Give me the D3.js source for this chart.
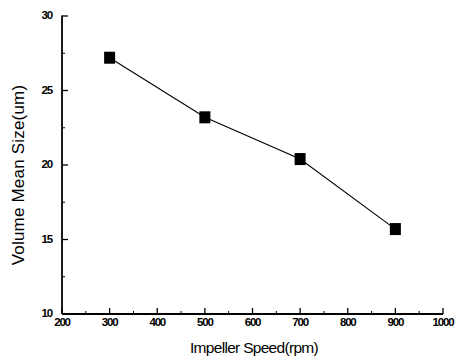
<!DOCTYPE html>
<html><head><meta charset="utf-8">
<script src="https://cdn.jsdelivr.net/npm/d3@7"></script>
<style>body{margin:0;background:#fff}</style>
</head><body>
<svg id="c" width="457" height="360"></svg>
<script>
const speeds = [300, 500, 700, 900];
const sizes = [27.2, 23.2, 20.4, 15.7];
const xTicks = [200, 300, 400, 500, 600, 700, 800, 900, 1000];
const yTicks = [10, 15, 20, 25, 30];
const xTitle = "Impeller Speed(rpm)";
const yTitle = "Volume Mean Size(um)";

const svg = d3.select("#c");
const x = d3.scaleLinear().domain([200, 1000]).range([62, 443]);
const y = d3.scaleLinear().domain([10, 30]).range([314, 16]);

const g = svg.append("g");
g.append("line").attr("x1", x(200)).attr("x2", x(1000)).attr("y1", y(10)).attr("y2", y(10)).attr("stroke", "#000").attr("stroke-width", 1.8);
g.append("line").attr("x1", x(200)).attr("x2", x(200)).attr("y1", y(10)).attr("y2", y(30) - 0.5).attr("stroke", "#000").attr("stroke-width", 1.8);

const xMinor = d3.range(250, 1000, 100);
const yMinor = d3.range(12.5, 30, 5);
g.selectAll(".xt").data(xTicks).join("line").attr("x1", d => x(d)).attr("x2", d => x(d)).attr("y1", y(10)).attr("y2", y(10) - 6).attr("stroke", "#000").attr("stroke-width", 1.3);
g.selectAll(".xm").data(xMinor).join("line").attr("x1", d => x(d)).attr("x2", d => x(d)).attr("y1", y(10)).attr("y2", y(10) - 3).attr("stroke", "#000").attr("stroke-width", 1);
g.selectAll(".yt").data(yTicks).join("line").attr("x1", x(200)).attr("x2", x(200) + 6).attr("y1", d => y(d)).attr("y2", d => y(d)).attr("stroke", "#000").attr("stroke-width", 1.3);
g.selectAll(".ym").data(yMinor).join("line").attr("x1", x(200)).attr("x2", x(200) + 3).attr("y1", d => y(d)).attr("y2", d => y(d)).attr("stroke", "#000").attr("stroke-width", 1);

g.selectAll(".xl").data(xTicks).join("text").attr("x", d => x(d)).attr("y", y(10) + 12)
  .attr("text-anchor", "middle").attr("font-family", "Liberation Sans, Arial, sans-serif").attr("font-weight", "bold")
  .attr("font-size", 11.5).attr("letter-spacing", -1.2).text(d => d);
g.selectAll(".yl").data(yTicks).join("text").attr("x", x(200) - 10).attr("y", d => y(d) + 3)
  .attr("text-anchor", "end").attr("font-family", "Liberation Sans, Arial, sans-serif").attr("font-weight", "bold")
  .attr("font-size", 11.5).attr("letter-spacing", -1.2).text(d => d);

g.append("text").attr("x", 254).attr("y", 353).attr("text-anchor", "middle")
  .attr("font-family", "Liberation Sans, Arial, sans-serif").attr("font-size", 15.5).attr("letter-spacing", -0.7).text(xTitle);
g.append("text").attr("transform", "translate(24,175) rotate(-90)").attr("text-anchor", "middle")
  .attr("font-family", "Liberation Sans, Arial, sans-serif").attr("font-size", 17).attr("letter-spacing", 0.2).text(yTitle);

const data = speeds.map((s, i) => ({s, v: sizes[i]}));
g.append("path").datum(data).attr("fill", "none").attr("stroke", "#000").attr("stroke-width", 1.1)
  .attr("d", d3.line().x(d => x(d.s)).y(d => y(d.v)));
g.selectAll(".m").data(data).join("rect").attr("x", d => x(d.s) - 5.5).attr("y", d => y(d.v) - 6)
  .attr("width", 11).attr("height", 12).attr("fill", "#000");
</script>
</body></html>
